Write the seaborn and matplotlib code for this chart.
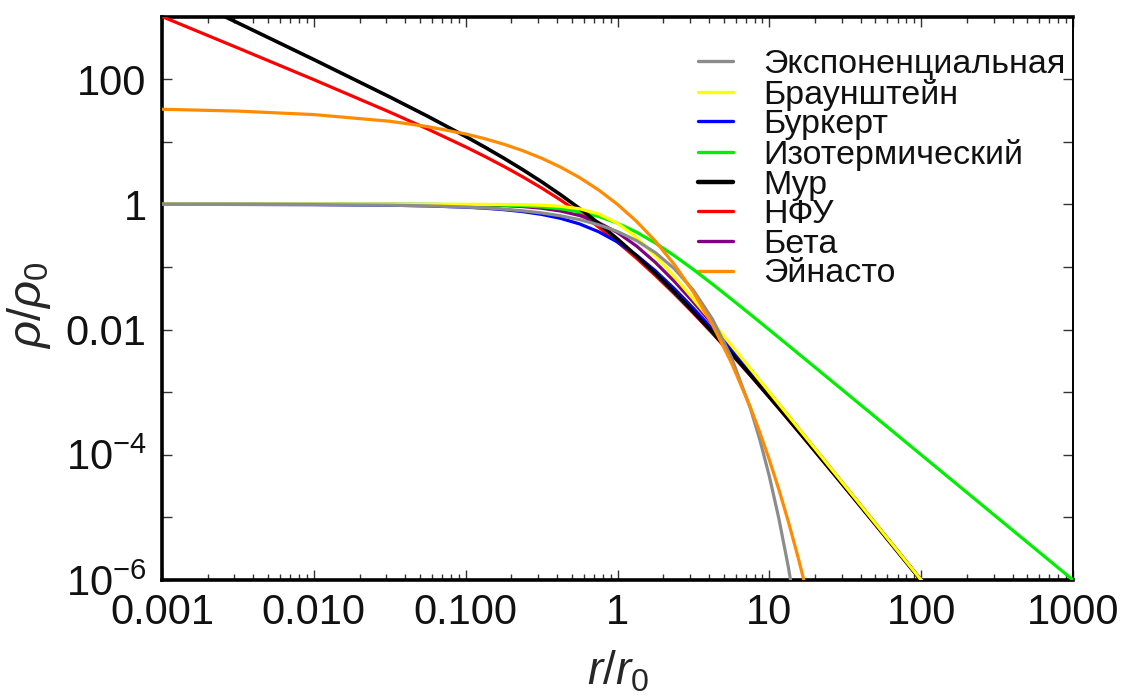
import numpy as np
import pandas as pd
import matplotlib
matplotlib.use("Agg")
import matplotlib.pyplot as plt
import seaborn as sns
from matplotlib.lines import Line2D
from matplotlib.ticker import FixedLocator, FixedFormatter, LogLocator, NullFormatter, NullLocator

# radius grid, log10(r / r0)
log_r = [-3, -2.5, -2, -1.5, -1.25, -1, -0.875, -0.75, -0.625, -0.5, -0.375,
         -0.25, -0.125, 0, 0.125, 0.25, 0.375, 0.5, 0.625, 0.75, 0.875, 0.9375, 1,
         1.0625, 1.125, 1.1875, 1.25, 1.5, 1.75, 2, 2.5, 3]

nan = float("nan")
# log10(rho / rho0) for each density profile on the grid above
exponential = [-0.0004, -0.0014, -0.0043, -0.0137, -0.0244, -0.0434, -0.0579, -0.0772,
               -0.1030, -0.1373, -0.1831, -0.2442, -0.3257, -0.4343, -0.5791, -0.7723,
               -1.0299, -1.3734, -1.8314, -2.4422, -3.2567, -3.7609, -4.3430,
               -5.0153, -5.7910, -6.6878, -7.7230,
               nan, nan, nan, nan, nan]
brownstein = [0.0, 0.0, 0.0, 0.0, -0.0001, -0.0004, -0.0010, -0.0024, -0.0058, -0.0135,
              -0.0314, -0.0711, -0.1528, -0.3010, -0.5278, -0.8211, -1.1565, -1.5135,
              -1.8808, -2.2524, -2.6260, -2.8132, -3.0004, -3.1878, -3.3752, -3.5626,
              -3.7501, -4.5000, -5.2500, -6.0000, -7.5000, -9.0000]
burkert = [-0.0004, -0.0014, -0.0044, -0.0140, -0.0251, -0.0457, -0.0620, -0.0846,
           -0.1162, -0.1607, -0.2239, -0.3131, -0.4368, -0.6021, -0.8118, -1.0631,
           -1.3489, -1.6607, -1.9912, -2.3346, -2.6870, -2.8657, -3.0457, -3.2268,
           -3.4088, -3.5917, -3.7751, -4.5140, -5.2578, -6.0044, -7.5014, -9.0004]
isothermal = [0.0, 0.0, 0.0, -0.0004, -0.0014, -0.0043, -0.0077, -0.0135, -0.0238,
              -0.0414, -0.0711, -0.1193, -0.1938, -0.3010, -0.4438, -0.6193, -0.8211,
              -1.0414, -1.2738, -1.5135, -1.7577, -1.8808, -2.0043, -2.1282, -2.2524,
              -2.3768, -2.5014, -3.0004, -3.5000, -4.0000, -5.0000, -6.0000]
moore = [3.4792, 2.8975, 2.3121, 1.7151, 1.4063, 1.0838, 0.9150, 0.7392, 0.5550,
         0.3605, 0.1538, -0.0665, -0.3021, -0.5539, -0.8221, -1.1065, -1.4062,
         -1.7196, -2.0451, -2.3808, -2.7250, -2.8998, -3.0762, -3.2539, -3.4328,
         -3.6128, -3.7937, -4.5249, -5.2641, -6.0079, -7.5025, -9.0000]
nfw = [2.9991, 2.4973, 1.9914, 1.4730, 1.2025, 0.9172, 0.7663, 0.6079, 0.4402,
       0.2614, 0.0694, -0.1375, -0.3610, -0.6021, -0.8610, -1.1375, -1.4306,
       -1.7387, -2.0598, -2.3922, -2.7337, -2.9074, -3.0828, -3.2596, -3.4378,
       -3.6171, -3.7975, -4.5270, -5.2653, -6.0086, -7.5027, -9.0009]
beta = [0.0, 0.0, -0.0001, -0.0007, -0.0021, -0.0065, -0.0115, -0.0203, -0.0356,
        -0.0621, -0.1066, -0.1790, -0.2907, -0.4515, -0.6657, -0.9290, -1.2317,
        -1.5621, -1.9107, -2.2703, -2.6366, -2.8212, -3.0065, -3.1923, -3.3786,
        -3.5652, -3.7521, -4.5007, -5.2500, -6.0000, -7.5000, -9.0000]
einasto = [1.5186, 1.4893, 1.4333, 1.3268, 1.2415, 1.1238, 1.0491, 0.9613, 0.8582,
           0.7370, 0.5947, 0.4274, 0.2309, 0.0, -0.2713, -0.5900, -0.9644, -1.4044,
           -1.9213, -2.5285, -3.2421, -3.6444, -4.0803, -4.5530, -5.0653, -5.6205,
           -6.2224, -9.1790, nan, nan, nan, nan]

labels = ["Экспоненциальная", "Браунштейн", "Буркерт", "Изотермический",
          "Мур", "НФУ", "Бета", "Эйнасто"]
series = [exponential, brownstein, burkert, isothermal, moore, nfw, beta, einasto]
colors = ["#8c8c8c", "#ffff00", "#0000ff", "#00ee00", "#000000", "#ff0000",
          "#800080", "#ff8c00"]
# stacking of the curves (higher is drawn on top)
layer = [7, 6, 3, 4, 5, 1, 2, 8]

x_ticks = [0.001, 0.01, 0.1, 1, 10, 100, 1000]
x_tick_labels = ["0.001", "0.010", "0.100", "1", "10", "100", "1000"]
y_ticks = [1e-6, 1e-5, 1e-4, 1e-3, 1e-2, 1e-1, 1, 10, 100, 1000]
y_tick_labels = [r"$\mathregular{10^{-6}}$", "", r"$\mathregular{10^{-4}}$", "",
                 "0.01", "", "1", "", "100", ""]

sns.set_theme(style="ticks")
plt.rcParams["font.family"] = ["Liberation Sans", "DejaVu Sans"]
plt.rcParams["mathtext.fontset"] = "custom"
plt.rcParams["mathtext.rm"] = "Liberation Sans"
plt.rcParams["mathtext.it"] = "Liberation Sans:italic"
plt.rcParams["mathtext.bf"] = "Liberation Sans:bold"

fig = plt.figure(figsize=(11.23, 6.97), dpi=100)
ax = fig.add_axes([162 / 1123, 1 - 580 / 697, (1073 - 162) / 1123, (580 - 16.5) / 697])
ax.set_xscale("log")
ax.set_yscale("log")

for name, vals, col, z in zip(labels, series, colors, layer):
    sub = pd.DataFrame({"r": np.power(10.0, log_r), "rho": np.power(10.0, vals)}).dropna()
    sns.lineplot(data=sub, x="r", y="rho", color=col, estimator=None, sort=False,
                 linewidth=2.6 if name == "Мур" else 2.3, legend=False, ax=ax, zorder=2 + z)

ax.set_xlim(0.001, 1000)
ax.set_ylim(1e-6, 1000)

ax.xaxis.set_major_locator(FixedLocator(x_ticks))
ax.xaxis.set_major_formatter(FixedFormatter(x_tick_labels))
ax.xaxis.set_minor_locator(LogLocator(base=10, subs=np.arange(2, 10), numticks=20))
ax.xaxis.set_minor_formatter(NullFormatter())
ax.yaxis.set_major_locator(FixedLocator(y_ticks))
ax.yaxis.set_major_formatter(FixedFormatter(y_tick_labels))
ax.yaxis.set_minor_locator(NullLocator())

ax.tick_params(which="both", direction="in", top=True, right=True,
               labelsize=30, labelcolor="#111111", width=1.0, color="#333333")
ax.tick_params(which="major", length=7)
ax.tick_params(which="minor", length=4)
ax.tick_params(axis="x", pad=9)
ax.tick_params(axis="y", pad=11)

for side in ["left", "bottom", "top"]:
    ax.spines[side].set_linewidth(2.6)
    ax.spines[side].set_color("black")
ax.spines["right"].set_linewidth(1.4)
ax.spines["right"].set_color("black")

ax.set_xlabel(r"$r/r_0$", fontsize=33, labelpad=12)
ax.set_ylabel(r"$\rho/\rho_0$", fontsize=34, labelpad=9)
ax.yaxis.label.set_y(0.488)

handles = [Line2D([0], [0], color=c, lw=3.2 if n == "Мур" else 2.4) for n, c in zip(labels, colors)]
leg = ax.legend(handles, labels, loc="upper left",
                bbox_to_anchor=(698 / 1123, 1 - 49 / 697), bbox_transform=fig.transFigure,
                frameon=False, fontsize=24.5, handlelength=1.03, handletextpad=0.90,
                labelspacing=-0.04, borderpad=0.0, borderaxespad=0.0)
for t in leg.get_texts():
    t.set_color("#111111")

fig.savefig("out.png", dpi=100)
